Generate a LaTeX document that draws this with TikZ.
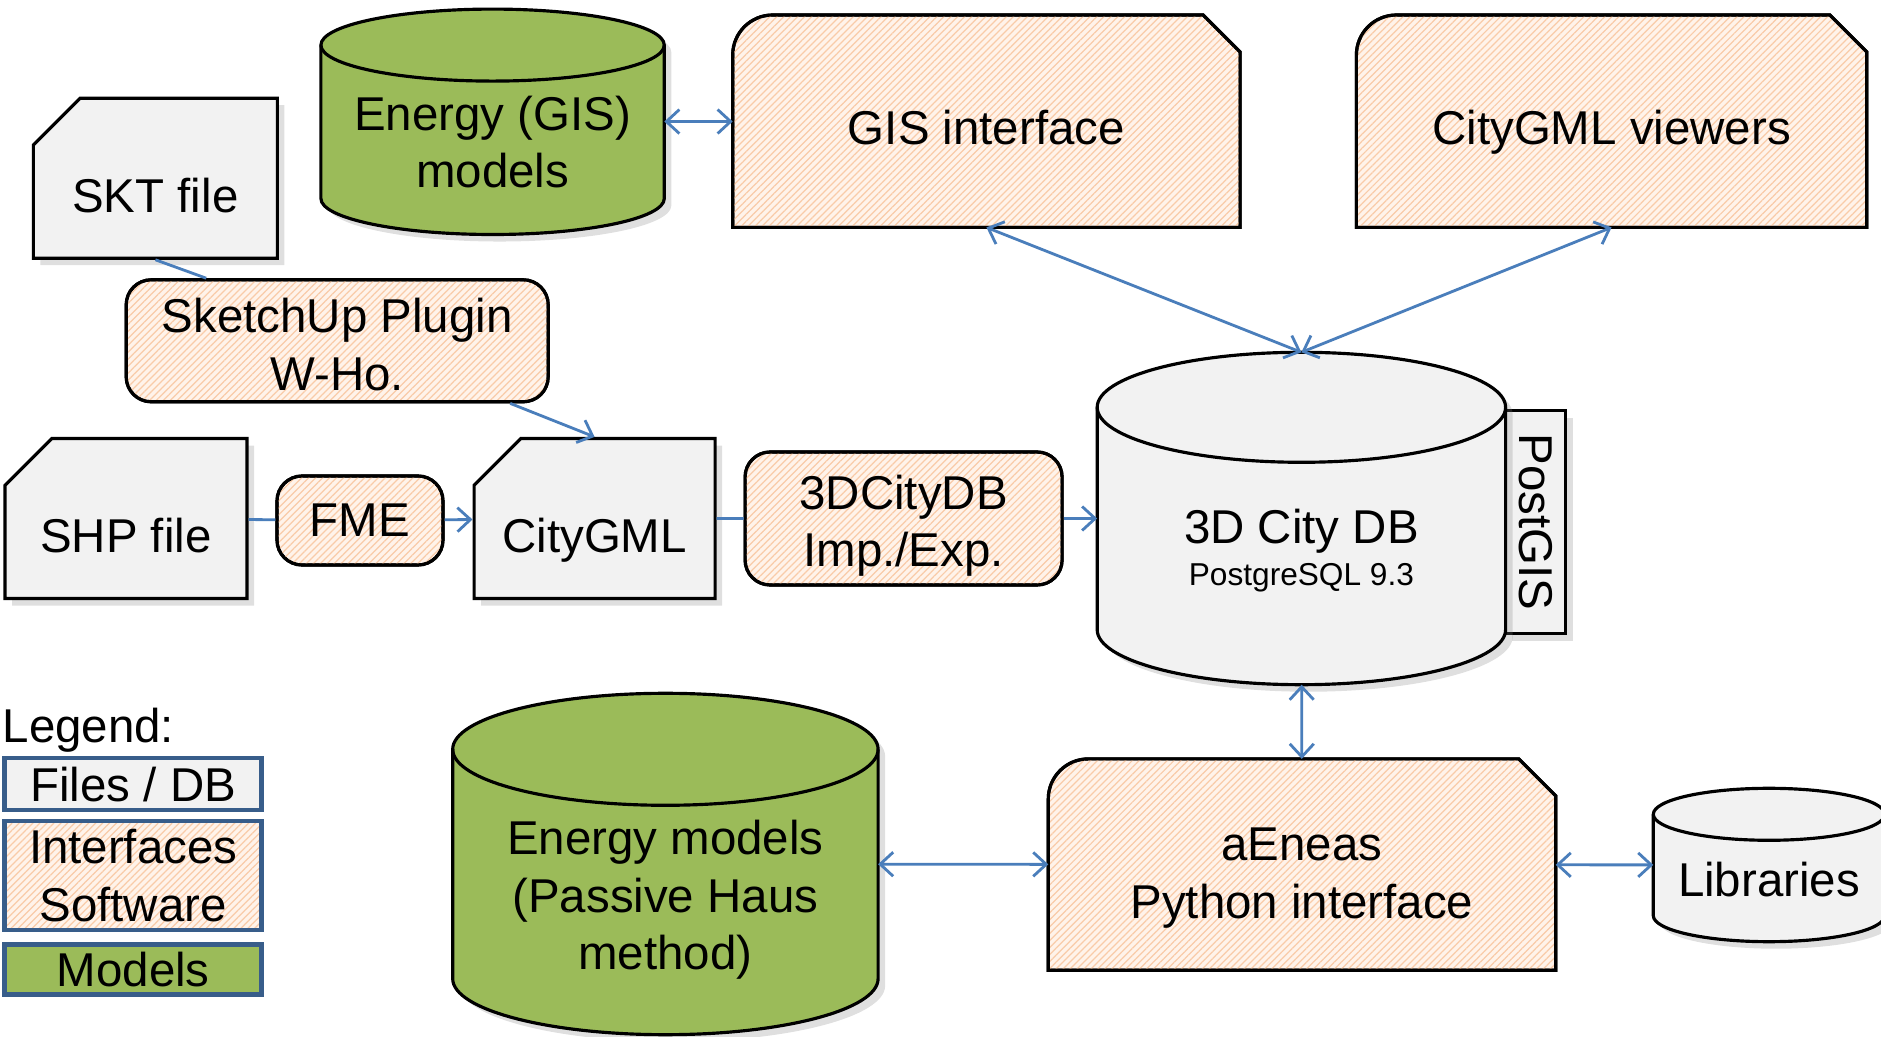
\documentclass[tikz,border=0pt]{standalone}
\usepackage{fontspec}
\setmainfont{Liberation Sans}
\usetikzlibrary{positioning,shapes.misc,patterns.meta,shadows,backgrounds,calc,arrows.meta}

\definecolor{filegray}{HTML}{F2F2F2}
\definecolor{modelgreen}{HTML}{9BBB59}
\definecolor{hatchbase}{HTML}{FFF3EA}
\definecolor{hatchline}{HTML}{F9CBA8}
\definecolor{linkblue}{HTML}{4A7EBB}
\definecolor{legendblue}{HTML}{385D8A}

\tikzset{
  every node/.style={font=\fontsize{13.5}{16.4}\selectfont, align=center, inner sep=0pt},
  dropshade/.style={drop shadow={shadow xshift=2pt, shadow yshift=-2pt, opacity=0.25}},
  hatched/.style={fill=hatchbase, postaction={pattern={Lines[angle=45,distance=1.4pt,line width=0.35pt]}, pattern color=hatchline}, postaction={draw}},
  filebox/.style={chamfered rectangle, chamfered rectangle corners=north west,
    chamfered rectangle xsep=0.45cm, draw, line width=0.9pt, fill=filegray, dropshade,
    text height=19.6pt, text depth=0pt},
  softbox/.style={rectangle, rounded corners=0.25cm, draw, line width=0.9pt, hatched},
  ifacebox/.style={rectangle},
  drumbox/.style={rectangle},
  tabbox/.style={rectangle, draw, line width=0.9pt, fill=filegray, dropshade},
  link/.style={draw=linkblue, line width=0.8pt},
  legendbox/.style={rectangle, draw=legendblue, line width=1.3pt, minimum width=2.57cm},
}

% interface outline: rounded top left, cut top right
\newcommand{\ifaceshape}[1]{%
  \begin{scope}[on background layer]
    \draw[line width=0.9pt, hatched] (#1.south west) [rounded corners=0.4cm] -- (#1.north west) [sharp corners]
      -- ([xshift=-0.37cm]#1.north east) -- ([yshift=-0.37cm]#1.north east) -- (#1.south east) -- cycle;
  \end{scope}}

% database drum around a node
\newcommand{\drumshape}[3]{%
  \begin{scope}[on background layer]
    \filldraw[line width=0.9pt, fill=#3, dropshade] let \p1=(#1.north west), \p2=(#1.south east), \n1={0.5*(\x2-\x1)} in
      (\x1,\y1-#2) -- (\x1,\y2+#2) arc[start angle=180, end angle=360, x radius=\n1, y radius=#2]
      -- (\x2,\y1-#2) arc[start angle=0, end angle=180, x radius=\n1, y radius=#2] -- cycle;
    \draw[line width=0.9pt] let \p1=(#1.north west), \p2=(#1.south east), \n1={0.5*(\x2-\x1)} in
      (\x1,\y1-#2) arc[start angle=180, end angle=360, x radius=\n1, y radius=#2];
  \end{scope}}

\begin{document}
\begin{tikzpicture}[>={Straight Barb[length=1.3mm,width=2.4mm]}]
\useasboundingbox (0,0) rectangle (18.81,-10.37);

% files
\node[filebox, minimum width=2.44cm, minimum height=1.6cm] (skt) at (1.554,-1.782) {SKT file};
\node[filebox, minimum width=2.42cm, minimum height=1.6cm] (shp) at (1.26,-5.185) {SHP file};
\node[filebox, minimum width=2.41cm, minimum height=1.6cm] (citygml) at (5.946,-5.185) {\makebox[1.5cm]{CityGML}};

% tools
\node[softbox, minimum width=4.22cm, minimum height=1.22cm] (sketchup) at (3.372,-3.408) {\rule{0pt}{12pt}SketchUp Plugin\\W-Ho.};
\node[softbox, minimum width=1.66cm, minimum height=0.89cm] (fme) at (3.6,-5.205) {FME};
\node[softbox, minimum width=3.17cm, minimum height=1.33cm] (importer) at (9.036,-5.185) {\rule{0pt}{14pt}3DCityDB\\Imp./Exp.};

% interfaces
\node[ifacebox, minimum width=5.06cm, minimum height=2.11cm, text height=13pt, text depth=0pt] (gisif) at (9.864,-1.212) {GIS interface};
\node[ifacebox, minimum width=5.09cm, minimum height=2.11cm, text height=13pt, text depth=0pt] (viewers) at (16.116,-1.212) {CityGML viewers};
\node[ifacebox, minimum width=5.06cm, minimum height=2.1cm] (aeneas) at (13.02,-8.646) {\rule{0pt}{17pt}aEneas\\Python interface};
\ifaceshape{gisif}
\ifaceshape{viewers}
\ifaceshape{aeneas}

% databases and models
\begin{scope}[on background layer]
  \node[tabbox, rotate=-90, minimum width=2.23cm, minimum height=0.61cm] (postgis) at (15.354,-5.22) {PostGIS};
\end{scope}
\node[drumbox, minimum width=4.07cm, minimum height=3.31cm] (citydb) at (13.014,-5.185) {};
\node[drumbox, minimum width=3.42cm, minimum height=2.24cm] (gismodels) at (4.926,-1.218) {};
\node[drumbox, minimum width=4.24cm, minimum height=3.4cm] (energymodels) at (6.654,-8.64) {};
\node[drumbox, minimum width=2.3cm, minimum height=1.52cm] (libraries) at (17.69,-8.65) {};
\drumshape{citydb}{0.55cm}{filegray}
\drumshape{gismodels}{0.36cm}{modelgreen}
\drumshape{energymodels}{0.56cm}{modelgreen}
\drumshape{libraries}{0.26cm}{filegray}
\node (citydb-txt) at (13.014,-5.51) {3D City DB\\[-4.5pt]{\fontsize{9}{11}\selectfont PostgreSQL 9.3}};
\node (gismodels-txt) at (4.926,-1.42) {Energy (GIS)\\models};
\node (energymodels-txt) at (6.654,-9.0) {Energy models\\(Passive Haus\\method)};
\node (libraries-txt) at (17.69,-8.8) {Libraries};

% legend
\node[anchor=west] (legend) at (0.02,-7.3) {Legend:};
\node[legendbox, fill=filegray, minimum height=0.52cm] (leg-files) at (1.332,-7.842) {Files / DB};
\node[legendbox, hatched, minimum height=1.09cm] (leg-iface) at (1.332,-8.754) {Interfaces\\Software};
\node[legendbox, fill=modelgreen, minimum height=0.5cm] (leg-models) at (1.332,-9.696) {Models};

% links
\draw[link, <->] (gismodels) -- (gisif);
\draw[link, <->] (gisif.south) -- (citydb.north);
\draw[link, <->] (viewers.south) -- (citydb.north);
\draw[link] (skt.south) -- ([xshift=-13.1mm]sketchup.north);
\draw[link, ->] ([xshift=17.3mm]sketchup.south) -- (citygml.north);
\draw[link] (shp) -- (fme);
\draw[link, ->] (fme) -- (citygml);
\draw[link] (citygml) -- (importer);
\draw[link, ->] (importer) -- (citydb);
\draw[link, <->] (citydb) -- (aeneas);
\draw[link, <->] (energymodels) -- (aeneas);
\draw[link, <->] (aeneas) -- (libraries);
\end{tikzpicture}
\end{document}
